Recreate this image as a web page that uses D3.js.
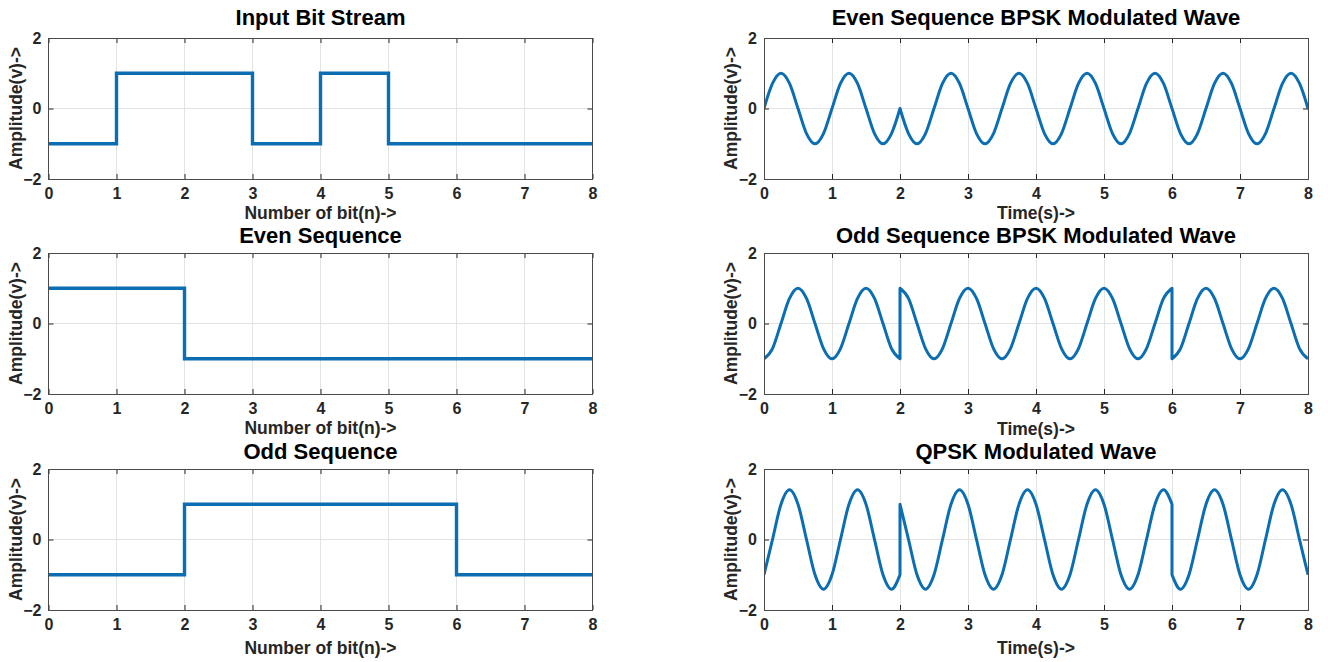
<!DOCTYPE html>
<html>
<head>
<meta charset="utf-8">
<script src="https://cdn.jsdelivr.net/npm/d3@7"></script>
<style>
	body { margin: 0; background: #fff; }
	svg { font-family: "Liberation Sans", Arial, sans-serif; font-weight: bold; }
</style>
</head>
<body>
<svg id="chart" width="1328" height="662"></svg>
<script>
// tick values, shared by every panel
const xTicks = [0, 1, 2, 3, 4, 5, 6, 7, 8]
const yTicks = [-2, 0, 2]

// NRZ level of each bit (-1 / +1)
const inputLevels = [-1, 1, 1, -1, 1, -1, -1, -1]
const evenLevels = [1, 1, -1, -1, -1, -1, -1, -1]
const oddLevels = [-1, -1, 1, 1, 1, 1, -1, -1]

// modulated waves, sampled every 1/8 s, one segment per symbol run
const evenWave = [
	{from: 0, to: 2, v: [0, .71, 1, .71, 0, -.71, -1, -.71, 0, .71, 1, .71, 0, -.71, -1, -.71, 0]},
	{from: 2, to: 8, v: [0, -.71, -1, -.71, 0, .71, 1, .71, 0, -.71, -1, -.71, 0, .71, 1, .71,
		0, -.71, -1, -.71, 0, .71, 1, .71, 0, -.71, -1, -.71, 0, .71, 1, .71,
		0, -.71, -1, -.71, 0, .71, 1, .71, 0, -.71, -1, -.71, 0, .71, 1, .71, 0]}
]
const oddWave = [
	{from: 0, to: 2, v: [-1, -.71, 0, .71, 1, .71, 0, -.71, -1, -.71, 0, .71, 1, .71, 0, -.71, -1]},
	{from: 2, to: 6, v: [1, .71, 0, -.71, -1, -.71, 0, .71, 1, .71, 0, -.71, -1, -.71, 0, .71,
		1, .71, 0, -.71, -1, -.71, 0, .71, 1, .71, 0, -.71, -1, -.71, 0, .71, 1]},
	{from: 6, to: 8, v: [-1, -.71, 0, .71, 1, .71, 0, -.71, -1, -.71, 0, .71, 1, .71, 0, -.71, -1]}
]
const qpskWave = [
	{from: 0, to: 2, v: [-1, 0, 1, 1.41, 1, 0, -1, -1.41, -1, 0, 1, 1.41, 1, 0, -1, -1.41, -1]},
	{from: 2, to: 6, v: [1, 0, -1, -1.41, -1, 0, 1, 1.41, 1, 0, -1, -1.41, -1, 0, 1, 1.41,
		1, 0, -1, -1.41, -1, 0, 1, 1.41, 1, 0, -1, -1.41, -1, 0, 1, 1.41, 1]},
	{from: 6, to: 8, v: [-1, -1.41, -1, 0, 1, 1.41, 1, 0, -1, -1.41, -1, 0, 1, 1.41, 1, 0, -1]}
]

const panels = [
	{col: 0, row: 0, title: "Input Bit Stream", xLabel: "Number of bit(n)->", levels: inputLevels},
	{col: 0, row: 1, title: "Even Sequence", xLabel: "Number of bit(n)->", levels: evenLevels},
	{col: 0, row: 2, title: "Odd Sequence", xLabel: "Number of bit(n)->", levels: oddLevels},
	{col: 1, row: 0, title: "Even Sequence BPSK Modulated Wave", xLabel: "Time(s)->", wave: evenWave},
	{col: 1, row: 1, title: "Odd Sequence BPSK Modulated Wave", xLabel: "Time(s)->", wave: oddWave},
	{col: 1, row: 2, title: "QPSK Modulated Wave", xLabel: "Time(s)->", wave: qpskWave}
]

const colX = [48.5, 764], rowY = [38, 253, 469],
	plotW = 544, plotH = 141,
	titleGap = [13, 10, 10],
	xLabelGap = [[40, 40, 44], [40, 41, 44]],
	lineColor = "#0b6db2", axisColor = "#262626"

const svg = d3.select("#chart")

panels.forEach((p, i) => {
	const g = svg.append("g").attr("transform", `translate(${colX[p.col]},${rowY[p.row]})`),
	x = d3.scaleLinear().domain([0, 8]).range([0, plotW]),
	y = d3.scaleLinear().domain([-2, 2]).range([plotH, 0])

	g.append("clipPath").attr("id", "clip" + i)
		.append("rect").attr("width", plotW).attr("height", plotH)

	// grid
	g.append("g").selectAll("line")
		.data(xTicks.slice(1, -1))
		.enter().append("line")
		.attr("x1", x).attr("x2", x)
		.attr("y1", 0).attr("y2", plotH)
		.attr("stroke", "#e3e3e3").attr("shape-rendering", "crispEdges")
	g.append("line")
		.attr("x1", 0).attr("x2", plotW)
		.attr("y1", y(0)).attr("y2", y(0))
		.attr("stroke", "#e3e3e3").attr("shape-rendering", "crispEdges")

	// data
	const plot = g.append("g").attr("clip-path", `url(#clip${i})`)
	if(p.levels){
		const pts = p.levels.map((v, k) => [k, v]).concat([[p.levels.length, p.levels[p.levels.length - 1]]])
		plot.append("path")
			.attr("d", d3.line().x(d => x(d[0])).y(d => y(d[1])).curve(d3.curveStepAfter)(pts))
			.attr("fill", "none").attr("stroke", lineColor).attr("stroke-width", 3.4)
	} else {
		const line = d3.line().x(d => x(d[0])).y(d => y(d[1])).curve(d3.curveMonotoneX)
		const d = p.wave.map((s, k) => {
			const step = (s.to - s.from) / (s.v.length - 1),
			path = line(s.v.map((v, j) => [s.from + j * step, v]))
			return k ? "L" + path.slice(1) : path
		}).join("")
		plot.append("path")
			.attr("d", d)
			.attr("fill", "none").attr("stroke", lineColor).attr("stroke-width", 3)
			.attr("stroke-linejoin", "round")
	}

	// axes, ticks pointing inwards like matlab
	const styleAxis = a => {
		a.select(".domain").remove()
		a.selectAll("line").attr("stroke", axisColor)
		a.selectAll("text").attr("fill", axisColor).attr("font-size", 16).attr("font-family", null)
	}
	g.append("g").attr("transform", `translate(0,${plotH})`)
		.call(d3.axisBottom(x).tickValues(xTicks).tickFormat(d3.format("d")).tickSizeInner(-5).tickSizeOuter(0).tickPadding(9))
		.call(styleAxis)
	g.append("g")
		.call(d3.axisTop(x).tickValues(xTicks).tickFormat("").tickSizeInner(-5).tickSizeOuter(0))
		.call(styleAxis)
	g.append("g")
		.call(d3.axisLeft(y).tickValues(yTicks).tickFormat(d3.format("d")).tickSizeInner(-5).tickSizeOuter(0).tickPadding(7))
		.call(styleAxis)
	g.append("g").attr("transform", `translate(${plotW},0)`)
		.call(d3.axisRight(y).tickValues(yTicks).tickFormat("").tickSizeInner(-5).tickSizeOuter(0))
		.call(styleAxis)

	g.append("rect")
		.attr("width", plotW).attr("height", plotH)
		.attr("fill", "none").attr("stroke", "#4a4a4a").attr("shape-rendering", "crispEdges")

	// labels
	g.append("text")
		.attr("x", plotW / 2).attr("y", -titleGap[p.row])
		.attr("text-anchor", "middle").attr("font-size", 22).attr("fill", "#000")
		.text(p.title)
	g.append("text")
		.attr("x", plotW / 2).attr("y", plotH + xLabelGap[p.col][p.row])
		.attr("text-anchor", "middle").attr("font-size", 17.5).attr("fill", axisColor)
		.text(p.xLabel)
	g.append("text")
		.attr("transform", `translate(${-33},${plotH / 2}) rotate(-90)`)
		.attr("dy", "0.36em")
		.attr("text-anchor", "middle").attr("font-size", 17.5).attr("fill", axisColor)
		.text("Amplitude(v)->")
})
</script>
</body>
</html>
